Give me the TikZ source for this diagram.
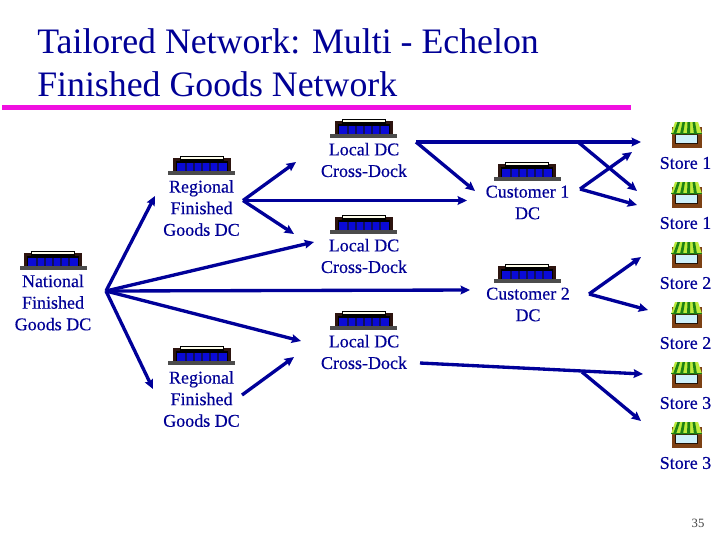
\documentclass[tikz,border=0pt]{standalone}
\usepackage{fontspec}
\setmainfont{Liberation Serif}
\newfontfamily\labelfont[FakeBold=0.35]{Liberation Serif}
\usetikzlibrary{arrows.meta}
\definecolor{navy}{RGB}{0,0,150}
\definecolor{linkblue}{RGB}{0,0,153}
\definecolor{rulepink}{RGB}{240,16,224}
\definecolor{wallbrown}{RGB}{45,20,15}
\definecolor{storebrown}{RGB}{125,65,20}
\definecolor{glass}{RGB}{205,240,250}
\definecolor{awndark}{RGB}{30,130,20}
\definecolor{awnlight}{RGB}{190,235,60}
\definecolor{doorblue}{RGB}{10,10,215}
\definecolor{doorseam}{RGB}{15,15,90}
\tikzset{
  label text/.style={font=\labelfont\fontsize{13.5pt}{16.2pt}\selectfont,text=navy,align=center,inner sep=0pt},
  title text/.style={font=\fontsize{26.85pt}{32.4pt}\selectfont,text=navy,align=left,inner sep=0pt,anchor=north west},
  link/.style={draw=linkblue,line width=2.5pt,-{Stealth[length=7pt,width=6.5pt,inset=1pt]},line cap=butt},
  branch/.style={link},
  warehouse/.pic={
    \fill[black!70] (-33.5,15) rectangle (33.5,19);
    \fill[wallbrown] (-29,2) rectangle (29,15);
    \fill[black] (-22,0) rectangle (22,6);
    \fill[white!92!yellow] (-21,1.2) rectangle (21,3);
    \fill[black] (-26,5) rectangle (26,15);
    \fill[doorblue] (-25,7) rectangle (25,15);
    \foreach \i in {-17,-9,-1,7,15} \fill[doorseam] (\i,7) rectangle (\i+2,15);
  },
  shop/.pic={
    \fill[storebrown] (-15,5) rectangle (15,26);
    \fill[black!70!storebrown] (-11.5,11.5) rectangle (11.5,21.5);
    \fill[glass] (-10.5,12.5) rectangle (10.5,20.5);
    \fill[awnlight] (-11.5,0) -- (11.5,0) -- (15.5,12) -- (-15.5,12) -- cycle;
    \foreach \a/\b in {-9/-13.5,-4/-6.5,1/0.5,6/7.5} \fill[awndark] (\a,0) -- (\a+2.5,0) -- (\b+3,12) -- (\b,12) -- cycle;
    \fill[awndark] (-15.5,10.5) rectangle (15.5,12);
  },
}
\begin{document}
\begin{tikzpicture}[x=0.75pt,y=-0.75pt]
\useasboundingbox (0,0) rectangle (720,540);
\fill[white] (0,0) rectangle (720,540);
% title
\node[title text] (title) at (37,28) {Tailored Network: Multi - Echelon\\Finished Goods Network};
\coordinate (ruleL) at (2,107.5);
\coordinate (ruleR) at (631,107.5);
\draw[rulepink,line width=3.6pt] (ruleL) -- (ruleR);
% warehouses
\pic at (201.5,156) {warehouse};
\pic at (53,251) {warehouse};
\pic at (363.5,119) {warehouse};
\pic at (363.5,215) {warehouse};
\pic at (363.5,311) {warehouse};
\pic at (527,162) {warehouse};
\pic at (527,264) {warehouse};
\pic at (201.5,346) {warehouse};
% stores
\foreach \t in {122,182,242,302,362,422} \pic at (686.5,\t) {shop};
% labels
\node[label text] (reg1) at (201.5,208) {Regional\\Finished\\Goods DC};
\node[label text] (nat) at (53,302.5) {National\\Finished\\Goods DC};
\node[label text] (reg2) at (201.5,399) {Regional\\Finished\\Goods DC};
\node[label text] (loc1) at (364,160) {Local DC\\Cross-Dock};
\node[label text] (loc2) at (364,256) {Local DC\\Cross-Dock};
\node[label text] (loc3) at (364,352) {Local DC\\Cross-Dock};
\node[label text] (cus1) at (527.5,202.5) {Customer 1\\DC};
\node[label text] (cus2) at (528,304.5) {Customer 2\\DC};
\node[label text] (st1) at (685.5,163) {Store 1};
\node[label text] (st2) at (685.5,223) {Store 1};
\node[label text] (st3) at (685.5,283) {Store 2};
\node[label text] (st4) at (685.5,343) {Store 2};
\node[label text] (st5) at (685.5,403) {Store 3};
\node[label text] (st6) at (685.5,463) {Store 3};
\node[font=\fontsize{9.5pt}{11pt}\selectfont,text=black!75,inner sep=0pt] (page) at (698,523) {35};
% hubs and line ends
\coordinate (natHub) at (106,291);
\coordinate (regHubA) at (243,200.5);
\coordinate (regHubB) at (242,395);
\coordinate (locHubA) at (416,142);
\coordinate (locJoinA) at (578,142);
\coordinate (locHubC) at (420,363);
\coordinate (locJoinC) at (582,372);
\coordinate (cusHubA) at (580,189);
\coordinate (cusHubB) at (589,294);
\coordinate (toReg1) at (155,196);
\coordinate (toReg2) at (153,389);
\coordinate (toLoc2) at (314,242);
\coordinate (toCus2) at (470,290);
\coordinate (toLoc3) at (301,341);
\coordinate (toLoc1) at (296,162);
\coordinate (toLoc2b) at (294,234);
\coordinate (toCus1) at (467,200.5);
\coordinate (toLoc3b) at (294,357);
\coordinate (toCus1b) at (475,191);
\coordinate (toSt1) at (641,142);
\coordinate (toSt2) at (637,191);
\coordinate (toSt1b) at (632,152);
\coordinate (toSt2b) at (637,205);
\coordinate (toSt3) at (641,257);
\coordinate (toSt4) at (648,310);
\coordinate (toSt5) at (643,374);
\coordinate (toSt6) at (641,421);
% connectors
\draw[link] (natHub) -- (toReg1);
\draw[link] (natHub) -- (toLoc2);
\draw[link] (natHub) -- (toCus2);
\draw[link] (natHub) -- (toLoc3);
\draw[link] (natHub) -- (toReg2);
\draw[link] (regHubA) -- (toLoc1);
\draw[link] (regHubA) -- (toLoc2b);
\draw[link] (regHubA) -- (toCus1);
\draw[link] (regHubB) -- (toLoc3b);
\draw[link] (locHubA) -- (toSt1);
\draw[link] (locHubA) -- (toCus1b);
\draw[branch] (locJoinA) -- (toSt2);
\draw[link] (cusHubA) -- (toSt1b);
\draw[link] (cusHubA) -- (toSt2b);
\draw[link] (cusHubB) -- (toSt3);
\draw[link] (cusHubB) -- (toSt4);
\draw[link] (locHubC) -- (toSt5);
\draw[branch] (locJoinC) -- (toSt6);
\end{tikzpicture}
\end{document}
